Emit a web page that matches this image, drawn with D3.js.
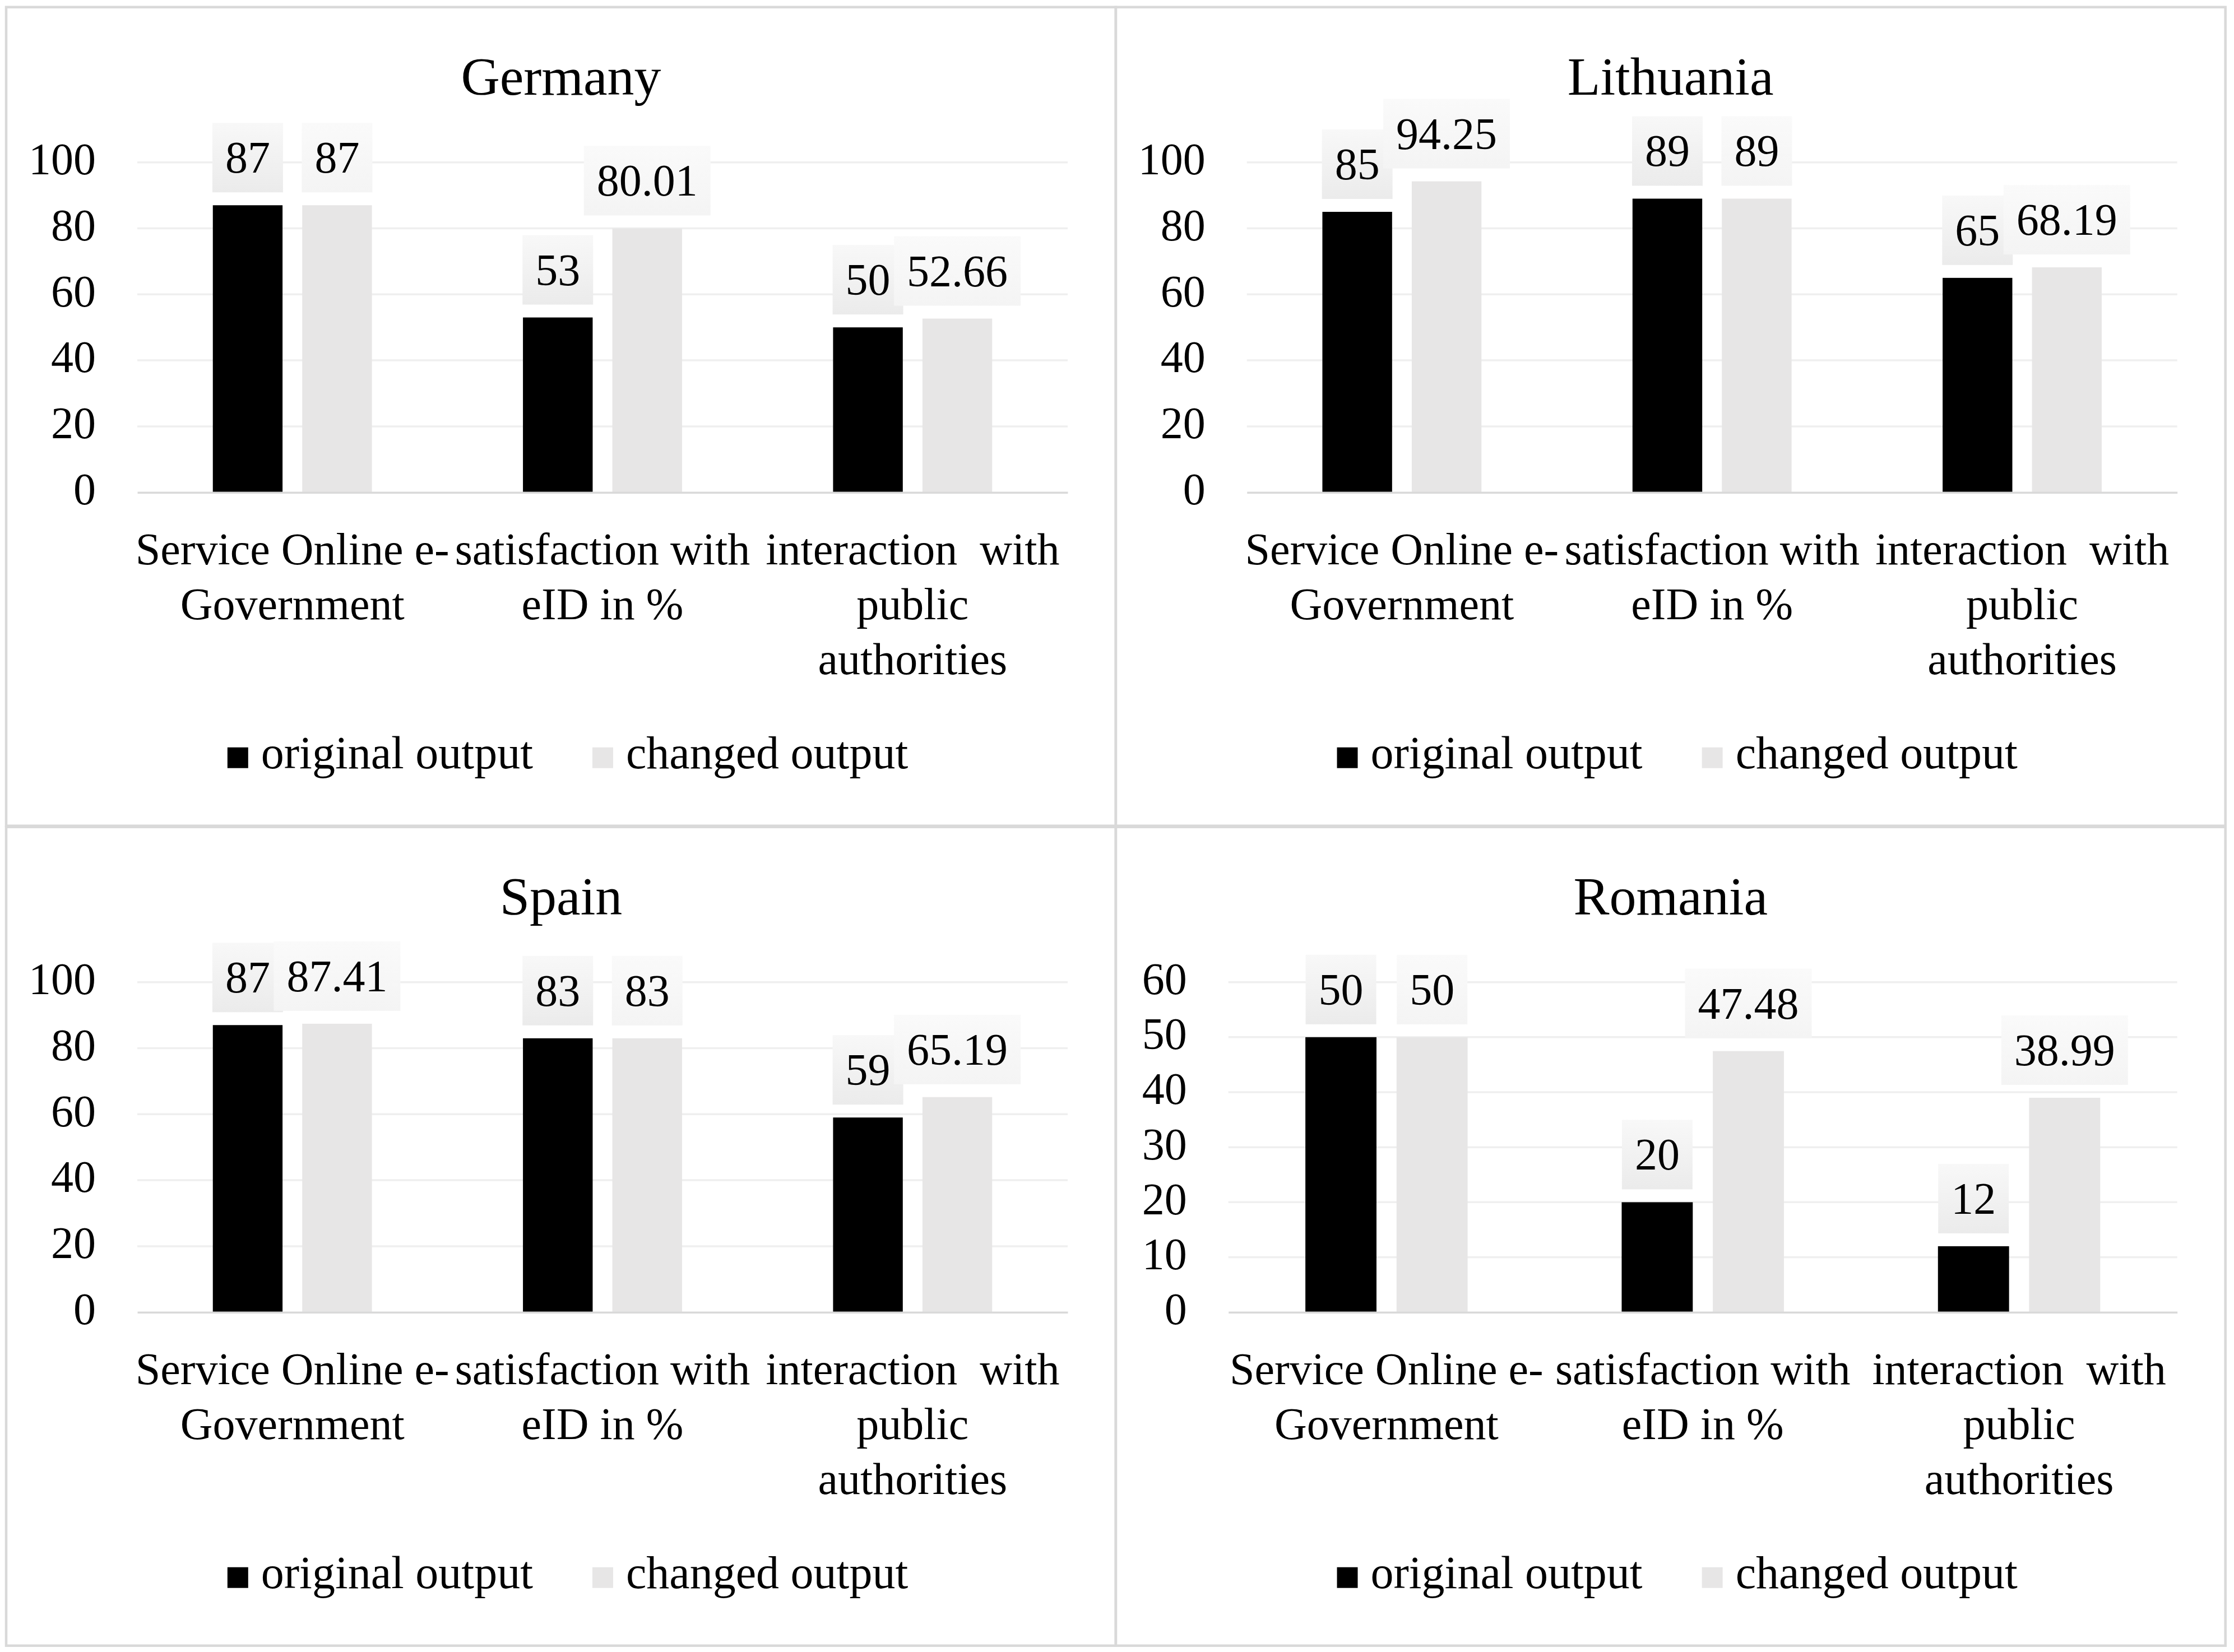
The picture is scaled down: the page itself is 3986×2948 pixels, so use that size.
<!DOCTYPE html>
<html>
<head>
<meta charset="utf-8">
<script src="https://cdn.jsdelivr.net/npm/d3@7"></script>
<style>
  body { margin: 0; background: #fff; }
</style>
</head>
<body>
<div id="chart"></div>
<script>
// ---- data ----
const countries = ['Germany', 'Lithuania', 'Spain', 'Romania'];
const categories = ['Service Online e-Government', 'satisfaction with eID in %', 'interaction with public authorities'];
const categoryLines = [
  ['Service Online e-', 'Government'],
  ['satisfaction with', 'eID in %'],
  ['interaction  with', 'public', 'authorities']
];
const seriesNames = ['original output', 'changed output'];

const germanyOriginal = [87, 53, 50];
const germanyChanged = [87, 80.01, 52.66];
const lithuaniaOriginal = [85, 89, 65];
const lithuaniaChanged = [94.25, 89, 68.19];
const spainOriginal = [87, 83, 59];
const spainChanged = [87.41, 83, 65.19];
const romaniaOriginal = [50, 20, 12];
const romaniaChanged = [50, 47.48, 38.99];

const ticks100 = [0, 20, 40, 60, 80, 100];
const ticks60 = [0, 10, 20, 30, 40, 50, 60];

const originals = [germanyOriginal, lithuaniaOriginal, spainOriginal, romaniaOriginal];
const changed = [germanyChanged, lithuaniaChanged, spainChanged, romaniaChanged];
const yTicks = [ticks100, ticks100, ticks100, ticks60];

// ---- layout ----
const W = 3986, H = 2948;
const colX = [11, 1990.7], rowY = [12.7, 1475.7];
const PW = 1980, PH = 1461;
const colors = ['#000000', '#e7e6e6'];
const labelFill = ['url(#lbl0)', 'url(#lbl1)'];
const FONT = '"Liberation Serif", "Times New Roman", serif';

const svg = d3.select('#chart').append('svg')
  .attr('width', W)
  .attr('height', H)
  .style('font-family', FONT);

const defs = svg.append('defs');
const gradient = (id, c0, c1) => {
  const lg = defs.append('linearGradient').attr('id', id)
    .attr('x1', 0).attr('y1', 0).attr('x2', 0).attr('y2', 1);
  lg.append('stop').attr('offset', 0).attr('stop-color', c0);
  lg.append('stop').attr('offset', 1).attr('stop-color', c1);
};
gradient('lbl0', '#f8f8f8', '#ebebeb');
gradient('lbl1', '#fafafa', '#f4f4f4');

countries.forEach((name, i) => drawPanel(name, i));

function drawPanel(name, i) {
  const ticks = yTicks[i];
  const yMax = d3.max(ticks);
  const g = svg.append('g')
    .attr('transform', `translate(${colX[i % 2]},${rowY[Math.floor(i / 2)]})`);

  // panel frame
  g.append('rect')
    .attr('width', PW).attr('height', PH)
    .attr('fill', 'none')
    .attr('stroke', '#d9d9d9')
    .attr('stroke-width', 4.5);

  const margin = { top: 277, bottom: 866, left: yMax >= 100 ? 234 : 201, right: PW - 86 };

  const x0 = d3.scaleBand()
    .domain(categories)
    .range([margin.left, margin.right]);
  const x1 = d3.scaleBand()
    .domain(seriesNames)
    .range([0, x0.bandwidth()])
    .paddingInner(0.22)
    .paddingOuter(0.845);
  const y = d3.scaleLinear()
    .domain([0, yMax])
    .range([margin.bottom, margin.top]);

  // title
  g.append('text')
    .attr('x', PW / 2)
    .attr('y', 156)
    .attr('text-anchor', 'middle')
    .attr('font-size', 96)
    .text(name);

  // gridlines
  g.append('g').selectAll('line')
    .data(ticks.filter(t => t !== 0))
    .join('line')
    .attr('x1', margin.left).attr('x2', margin.right)
    .attr('y1', d => y(d)).attr('y2', d => y(d))
    .attr('stroke', '#efefef')
    .attr('stroke-width', 3.5);

  // y axis
  g.append('g')
    .attr('transform', `translate(${margin.left},0)`)
    .call(d3.axisLeft(y).tickValues(ticks).tickSize(0).tickPadding(74))
    .call(a => a.select('.domain').remove())
    .call(a => a.selectAll('text')
      .attr('font-family', FONT)
      .attr('font-size', 80)
      .attr('fill', '#000')
      .attr('dy', '0.26em'));

  // bars
  const rows = categories.map((c, k) => ({ key: c, values: [originals[i][k], changed[i][k]] }));
  const groups = g.append('g').selectAll('g')
    .data(rows)
    .join('g')
    .attr('transform', d => `translate(${x0(d.key)},0)`);

  groups.selectAll('rect')
    .data(d => d.values.map((v, s) => ({ series: seriesNames[s], s, value: v })))
    .join('rect')
    .attr('x', d => x1(d.series))
    .attr('y', d => y(d.value))
    .attr('width', x1.bandwidth())
    .attr('height', d => y(0) - y(d.value))
    .attr('fill', d => colors[d.s]);

  // x axis
  g.append('g')
    .attr('transform', `translate(0,${margin.bottom})`)
    .call(d3.axisBottom(x0).tickSize(0).tickFormat(''))
    .call(a => a.select('.domain')
      .attr('stroke', '#d9d9d9')
      .attr('stroke-width', 3.5))
    .call(a => a.selectAll('.tick text').remove())
    .call(a => a.selectAll('.tick').append('text')
      .attr('text-anchor', 'middle')
      .attr('font-family', FONT)
      .attr('font-size', 80)
      .attr('fill', '#000')
      .style('white-space', 'pre')
      .selectAll('tspan')
      .data((d, k) => categoryLines[k])
      .join('tspan')
      .attr('x', 0)
      .attr('y', (d, k) => 128 + k * 98)
      .text(d => d));

  // data labels
  const labels = groups.selectAll('g.lbl')
    .data(d => d.values.map((v, s) => ({ series: seriesNames[s], s, value: v })))
    .join('g')
    .attr('class', 'lbl')
    .attr('transform', d => `translate(${x1(d.series) + x1.bandwidth() / 2},${y(d.value) - 23 - 62})`);

  labels.each(function (d) {
    const lg = d3.select(this);
    const box = lg.append('rect').attr('fill', labelFill[d.s]);
    const t = lg.append('text')
      .attr('text-anchor', 'middle')
      .attr('font-size', 80)
      .attr('y', 27)
      .text(String(d.value));
    const w = t.node().getComputedTextLength() + 46;
    box.attr('x', -w / 2).attr('y', -62).attr('width', w).attr('height', 124);
  });

  // legend
  const legend = g.append('g');
  let cx = 0;
  seriesNames.forEach((s, k) => {
    legend.append('rect')
      .attr('x', cx).attr('y', -37)
      .attr('width', 37).attr('height', 37)
      .attr('fill', colors[k]);
    const t = legend.append('text')
      .attr('x', cx + 60).attr('y', 0)
      .attr('font-size', 82)
      .text(s);
    cx += 60 + t.node().getComputedTextLength() + 106;
  });
  const legendW = cx - 106;
  legend.attr('transform', `translate(${PW / 2 + 12 - legendW / 2},1358)`);
}
</script>
</body>
</html>
